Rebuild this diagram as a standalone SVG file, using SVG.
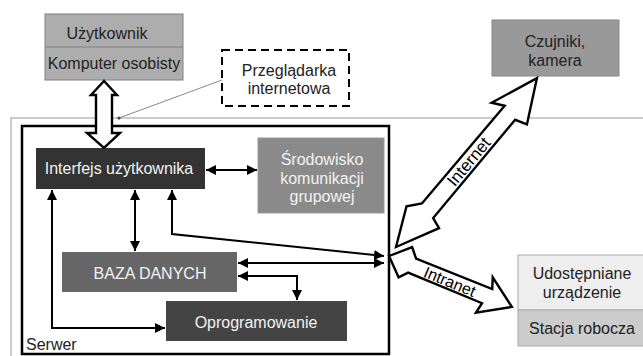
<svg xmlns="http://www.w3.org/2000/svg" width="643" height="356" viewBox="0 0 643 356">
<defs>
<marker id="ah" viewBox="0 0 10 10" refX="10" refY="5" markerWidth="5" markerHeight="5" orient="auto-start-reverse" markerUnits="strokeWidth">
<path d="M0,0 L10,5 L0,10 Z" fill="#000"/>
</marker>
<style>
text{font-family:"Liberation Sans",Arial,sans-serif;font-size:16px;text-anchor:middle}
.lt{fill:#f2f2f2}
.dk{fill:#222}
.con{fill:none;stroke:#000;stroke-width:2}
.hol{fill:#fff;stroke:#000;stroke-width:2.4;stroke-linejoin:miter}
</style>
</defs>
<rect width="643" height="356" fill="#fff"/>
<rect x="11" y="118" width="640" height="260" fill="none" stroke="#999" stroke-width="1"/>

<g id="serwer">
<rect x="22" y="126" width="367" height="228" fill="none" stroke="#000" stroke-width="2.5"/>
<text x="26" y="350" class="dk" style="text-anchor:start">Serwer</text>
</g>

<g id="uzytkownik">
<rect x="45" y="14" width="138" height="66" fill="#adadad" stroke="#808080" stroke-width="1"/>
<line x1="45" y1="47" x2="183" y2="47" stroke="#808080" stroke-width="1"/>
<text x="107" y="39" class="dk">Użytkownik</text>
<text x="114" y="69" class="dk">Komputer osobisty</text>
</g>

<g id="przegladarka">
<rect x="222" y="50" width="127" height="56" fill="#fff" stroke="#000" stroke-width="2" stroke-dasharray="8,5"/>
<text x="289" y="76" class="dk">Przeglądarka</text>
<text x="289" y="94" class="dk">internetowa</text>
</g>

<g id="interfejs">
<rect x="36" y="148" width="169" height="41" fill="#333"/>
<text x="119" y="174" class="lt">Interfejs użytkownika</text>
</g>

<g id="srodowisko">
<rect x="258" y="138" width="126" height="75" fill="#8a8a8a" stroke="#999" stroke-width="1"/>
<text x="322" y="165" class="lt">Środowisko</text>
<text x="322" y="184" class="lt">komunikacji</text>
<text x="322" y="202" class="lt">grupowej</text>
</g>

<g id="baza">
<rect x="62" y="252" width="175" height="40" fill="#666"/>
<text x="150" y="279" class="lt">BAZA DANYCH</text>
</g>

<g id="oprogramowanie">
<rect x="166" y="301" width="181" height="40" fill="#444"/>
<text x="256" y="328" class="lt">Oprogramowanie</text>
</g>

<g id="czujniki">
<rect x="492" y="20" width="127" height="56" fill="#999" stroke="#888" stroke-width="1"/>
<text x="555" y="47" class="dk">Czujniki,</text>
<text x="555" y="66" class="dk">kamera</text>
</g>

<g id="stacja">
<rect x="518" y="255" width="126" height="55" fill="#eeeeee" stroke="#aaa" stroke-width="1"/>
<rect x="518" y="310" width="126" height="36" fill="#cccccc" stroke="#aaa" stroke-width="1"/>
<text x="582" y="279" class="dk">Udostępniane</text>
<text x="582" y="298" class="dk">urządzenie</text>
<text x="582" y="334" class="dk">Stacja robocza</text>
</g>

<g id="connectors">
<line x1="222" y1="80" x2="119" y2="118" stroke="#888" stroke-width="1"/>
<circle cx="119" cy="118" r="1.6" fill="#444"/>
<path class="hol" d="M104,81 L91,95 L96,95 L96,133 L87,133 L104,148 L120,133 L112,133 L112,95 L117,95 Z"/>
<line class="con" x1="206" y1="170" x2="257" y2="170" marker-start="url(#ah)" marker-end="url(#ah)"/>
<path class="con" d="M52,190 L52,328 L165,328" marker-start="url(#ah)" marker-end="url(#ah)"/>
<line class="con" x1="135" y1="190" x2="135" y2="251" marker-start="url(#ah)" marker-end="url(#ah)"/>
<path class="con" d="M172,190 L172,234 L384,256" marker-start="url(#ah)" marker-end="url(#ah)"/>
<line class="con" x1="238" y1="263" x2="384" y2="263" marker-start="url(#ah)" marker-end="url(#ah)"/>
<path class="con" d="M238,276 L297,276 L297,300" marker-start="url(#ah)" marker-end="url(#ah)"/>
<g transform="translate(396,247) rotate(-50.16)">
<path class="hol" d="M0,0 L38,-18 L50,-8 L178,-7 L172,-19 L220,0 L178,22 L174,10 L46,10 L42,21 Z"/>
<text x="112" y="7" class="dk" style="font-size:17px;fill:#000">Internet</text>
</g>
<g transform="translate(389,256) rotate(22.5)">
<path class="hol" d="M0,0 L18,-17 L26,-8 L108,-9 L104,-20 L133,0 L102,19 L104,8 L24,8 L17,16 Z"/>
<text x="66" y="6" class="dk" style="font-size:16px;fill:#000">Intranet</text>
</g>
</g>
</svg>
